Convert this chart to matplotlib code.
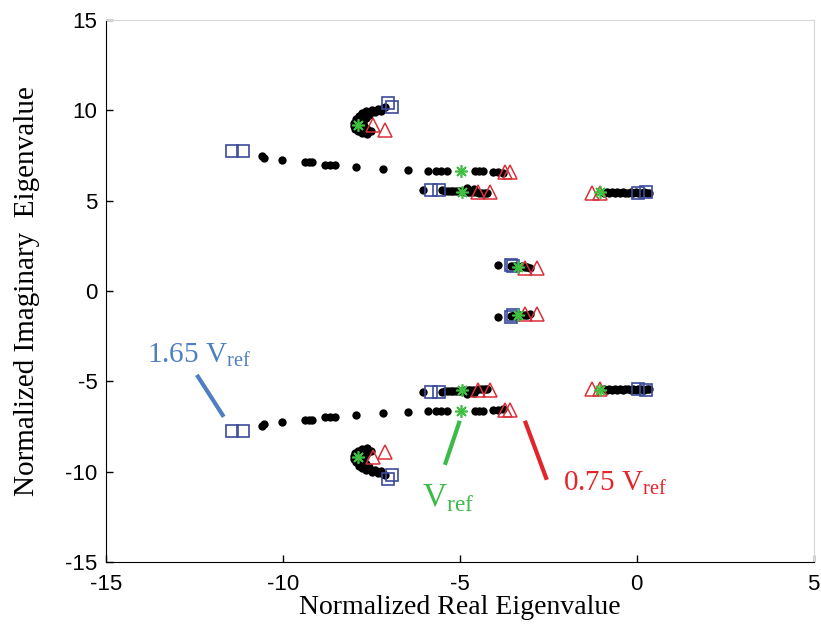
import numpy as np
import matplotlib
matplotlib.use("Agg")
import matplotlib.pyplot as plt

plt.rcParams['axes.unicode_minus'] = False
plt.rcParams['mathtext.fontset'] = 'custom'
plt.rcParams['mathtext.rm'] = 'Liberation Serif'

# upper half of the eigenvalue loci (lower half is the complex conjugate)
dots_re = [-10.59, -10.54, -10.03, -9.38, -9.27, -9.18, -8.81, -8.67, -8.53, -7.94,
           -7.18, -6.47, -5.90, -5.68, -5.54, -5.37, -4.58, -4.46, -4.35, -4.07,
           -3.93, -3.79,
           -6.05, -5.50, -5.42, -5.34, -5.26, -5.18, -5.10, -5.02, -4.94, -4.86,
           -4.78, -4.70, -4.62, -4.54, -4.46, -4.38, -4.30, -4.22, -4.80, -4.60,
           -7.10, -7.18, -7.32, -7.49, -7.66, -7.77, -7.85, -7.93, -7.98, -8.00,
           -7.96, -7.88, -7.76, -7.63, -7.22, -7.40, -7.56, -7.66, -7.74, -7.72,
           -7.62, -7.50,
           -0.92, -0.85, -0.78, -0.70, -0.62, -0.55, -0.47, -0.40, -0.32, -0.25,
           -0.17, -0.10, -0.02, 0.05, 0.13, 0.20, 0.28, 0.35,
           -3.93, -3.55, -3.47, -3.40, -3.32, -3.25, -3.17, -3.10, -3.02]
dots_im = [7.47, 7.36, 7.25, 7.14, 7.14, 7.14, 6.97, 6.97, 6.97, 6.86,
           6.75, 6.70, 6.64, 6.64, 6.64, 6.64, 6.64, 6.64, 6.64, 6.59,
           6.59, 6.53,
           5.59, 5.58, 5.56, 5.56, 5.55, 5.54, 5.54, 5.52, 5.52, 5.50,
           5.50, 5.48, 5.47, 5.46, 5.45, 5.44, 5.43, 5.42, 5.70, 5.66,
           10.20, 10.15, 10.10, 10.04, 9.94, 9.83, 9.68, 9.50, 9.32, 9.14,
           8.97, 8.84, 8.74, 8.68, 9.98, 9.90, 9.76, 9.56, 9.36, 9.14,
           8.98, 8.88,
           5.45, 5.46, 5.44, 5.47, 5.43, 5.46, 5.44, 5.47, 5.45, 5.43,
           5.46, 5.44, 5.47, 5.45, 5.43, 5.46, 5.44, 5.45,
           1.44, 1.40, 1.36, 1.38, 1.33, 1.36, 1.31, 1.33, 1.29]

square_re = [-11.44, -11.13, -7.03, -6.92, -5.82, -5.59, 0.03, 0.25, -3.56, -3.50]
square_im = [7.75, 7.75, 10.40, 10.18, 5.59, 5.59, 5.42, 5.48, 1.44, 1.36]

tri_re = [-3.73, -3.59, -4.49, -4.15, -7.46, -7.12, -1.27, -1.05, -3.16, -2.82]
tri_im = [6.59, 6.59, 5.48, 5.48, 9.19, 8.91, 5.42, 5.42, 1.27, 1.27]

star_re = [-4.97, -4.94, -7.88, -1.05, -3.36]
star_im = [6.64, 5.50, 9.19, 5.48, 1.33]

blue = '#4f7fc0'
green = '#3dba4a'
red = '#e3242b'

fig = plt.figure(figsize=(8.21, 6.27), dpi=100)
ax = fig.add_axes([0.129, 0.104, 0.862, 0.864])

for sign in (1, -1):
    ax.plot(dots_re, sign * np.array(dots_im), 'o', color='black', ms=6, mew=0)
    ax.plot(square_re, sign * np.array(square_im), 's', mfc='none', mec='#3b4c9c',
            ms=9, mew=1.2)
    ax.plot(tri_re, sign * np.array(tri_im), '^', mfc='none', mec='#d8303a',
            ms=10, mew=1.1)
    ax.plot(star_re, sign * np.array(star_im), marker=(8, 2, 0), ls='none',
            color='#40c040', ms=9, mew=1.2)

# annotations
ax.plot([-12.43, -11.67], [-4.65, -6.97], color=blue, lw=3, solid_capstyle='butt')
ax.text(-13.84, -3.93, r'1.65 V$_\mathrm{ref}$', color=blue, fontsize=21,
        family='Liberation Serif', ha='left', va='baseline')
ax.plot([-5.0, -5.42], [-7.19, -9.63], color=green, lw=3, solid_capstyle='butt')
ax.text(-6.07, -11.95, r'V$_\mathrm{ref}$', color=green, fontsize=24,
        family='Liberation Serif', ha='left', va='baseline')
ax.plot([-3.16, -2.54], [-7.19, -10.46], color=red, lw=3, solid_capstyle='butt')
ax.text(-2.09, -11.01, r'0.75 V$_\mathrm{ref}$', color=red, fontsize=21,
        family='Liberation Serif', ha='left', va='baseline')

ax.set_xlim(-15, 5)
ax.set_ylim(-15, 15)
ax.set_xticks([-15, -10, -5, 0, 5])
ax.set_yticks([-15, -10, -5, 0, 5, 10, 15])
ax.tick_params(direction='in', length=5, width=1, pad=6, labelsize=16)
ax.tick_params(axis='x', pad=9)
for lab in ax.get_xticklabels() + ax.get_yticklabels():
    lab.set_family('Liberation Sans')
ax.spines['top'].set_color('#d8d8d8')
ax.spines['right'].set_color('#d8d8d8')

ax.set_xlabel('Normalized Real Eigenvalue', family='Liberation Serif',
              fontsize=20, labelpad=0)
ax.set_ylabel('Normalized Imaginary  Eigenvalue', family='Liberation Serif',
              fontsize=21, labelpad=18)

fig.savefig('out.png', dpi=100)
